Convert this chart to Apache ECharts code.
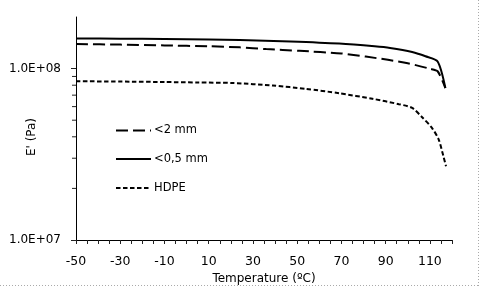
<!DOCTYPE html>
<html>
<head>
<meta charset="utf-8">
<script src="https://cdn.jsdelivr.net/npm/echarts@6/dist/echarts.min.js"></script>
<style>html,body{margin:0;padding:0;background:#fff}#c{width:479px;height:287px}</style>
</head>
<body>
<div id="c"></div>
<script>
// Data
const seriesNames = ['<2 mm', '<0,5 mm', 'HDPE'];
const temp2mm = [-50, -30, -10, 10, 24, 36, 51, 70, 81, 91, 100, 110, 113.5, 117];
const val2mm  = [1.39e8, 1.38e8, 1.365e8, 1.35e8, 1.33e8, 1.30e8, 1.27e8, 1.225e8, 1.175e8, 1.125e8, 1.075e8, 0.998e8, 0.965e8, 7.7e7];
const temp05mm = [-50, -30, -10, 10, 24, 47, 69, 85, 92, 102, 108, 113.5, 117];
const val05mm  = [1.50e8, 1.495e8, 1.49e8, 1.48e8, 1.47e8, 1.44e8, 1.40e8, 1.35e8, 1.32e8, 1.25e8, 1.18e8, 1.10e8, 7.7e7];
const tempHDPE = [-50, -30, -10, 5, 21, 39, 54, 69, 84, 96, 102, 106.5, 111, 114, 116.2, 117.3];
const valHDPE  = [8.44e7, 8.4e7, 8.35e7, 8.3e7, 8.24e7, 7.96e7, 7.62e7, 7.18e7, 6.67e7, 6.2e7, 5.9e7, 5.2e7, 4.5e7, 3.85e7, 3.05e7, 2.69e7];
const xLabelValues = [-50, -30, -10, 10, 30, 50, 70, 90, 110];
const yMajorTicks = [1e7, 1e8];
const yMajorLabels = ['1.0E+07', '1.0E+08'];
const yMinorTicks = [2e7, 3e7, 4e7, 5e7, 6e7, 7e7, 8e7, 9e7];

const zip = (xs, ys) => xs.map((x, i) => [x, ys[i]]);
const FONT = 'DejaVu Sans';
const chart = echarts.init(document.getElementById('c'), null, {renderer: 'canvas'});

const legendBase = {
  orient: 'vertical', left: 115, padding: 0, itemWidth: 35, itemHeight: 14,
  itemStyle: {opacity: 0, borderWidth: 0},
  textStyle: {fontFamily: FONT, fontSize: 11.5, color: '#000', padding: [0, 0, 0, -2]},
  selectedMode: false
};

chart.setOption({
  animation: false,
  grid: {left: 76, right: 27, top: 17, bottom: 47, containLabel: false, outerBoundsMode: 'none'},
  legend: [
    Object.assign({}, legendBase, {top: 124.5, data: [seriesNames[0]]}),
    Object.assign({}, legendBase, {top: 153, data: [seriesNames[1]]}),
    Object.assign({}, legendBase, {top: 182, data: [seriesNames[2]]})
  ],
  xAxis: {
    type: 'value', min: -50, max: 120, interval: 5,
    name: 'Temperature (ºC)', nameLocation: 'middle', nameGap: 28,
    nameTextStyle: {fontFamily: FONT, fontSize: 12, color: '#000'},
    axisLine: {show: true, onZero: false, lineStyle: {color: '#000', width: 1}},
    axisTick: {show: true, inside: false, length: 4, lineStyle: {color: '#222'}},
    axisLabel: {
      fontFamily: FONT, fontSize: 12.5, color: '#000', margin: 15,
      formatter: v => xLabelValues.includes(v) ? String(v) : ''
    },
    splitLine: {show: false}
  },
  yAxis: {
    type: 'log', logBase: 10, min: 1e7, max: 2e8,
    axisLine: {show: true, onZero: false, lineStyle: {color: '#000', width: 1}},
    axisTick: {show: true, inside: false, length: 5, lineStyle: {color: '#222'}},
    axisLabel: {
      fontFamily: FONT, fontSize: 12, color: '#000', margin: 15,
      showMaxLabel: false, showMinLabel: true,
      formatter: v => {
        const i = yMajorTicks.findIndex(t => Math.abs(t - v) / t < 1e-6);
        return i >= 0 ? yMajorLabels[i] : '';
      }
    },
    splitLine: {show: false}
  },
  graphic: [
    {type: 'text', x: 32, y: 137, rotation: Math.PI / 2,
     style: {text: "E' (Pa)", fontFamily: FONT, fontSize: 12, fill: '#000', align: 'center', verticalAlign: 'middle'}},
    {type: 'line', shape: {x1: 478.5, y1: 0, x2: 478.5, y2: 286}, style: {stroke: '#aaa', lineWidth: 1, lineDash: [1, 2]}},
    {type: 'line', shape: {x1: 0, y1: 285.5, x2: 479, y2: 285.5}, style: {stroke: '#aaa', lineWidth: 1, lineDash: [1, 2]}}
  ],
  series: [
    {name: seriesNames[0], type: 'line', data: zip(temp2mm, val2mm), symbol: 'none',
     smooth: 0.25,
     lineStyle: {color: '#000', width: 2, type: [12, 5]}, itemStyle: {color: '#000'}},
    {name: seriesNames[1], type: 'line', data: zip(temp05mm, val05mm), symbol: 'none',
     smooth: 0.25,
     lineStyle: {color: '#000', width: 2, type: 'solid'}, itemStyle: {color: '#000'}},
    {name: seriesNames[2], type: 'line', data: zip(tempHDPE, valHDPE), symbol: 'none',
     smooth: 0.25,
     lineStyle: {color: '#000', width: 2, type: [4.5, 2.5]}, itemStyle: {color: '#000'}},
    {name: 'yMinorTicks', type: 'custom', silent: true, clip: false, z: 5,
     data: yMinorTicks.map(v => [-50, v]),
     renderItem: (params, api) => {
       const p = api.coord([api.value(0), api.value(1)]);
       return {type: 'line', shape: {x1: p[0] - 4, y1: p[1], x2: p[0], y2: p[1]},
               style: {stroke: '#222', lineWidth: 1}};
     }}
  ]
});
</script>
</body>
</html>
